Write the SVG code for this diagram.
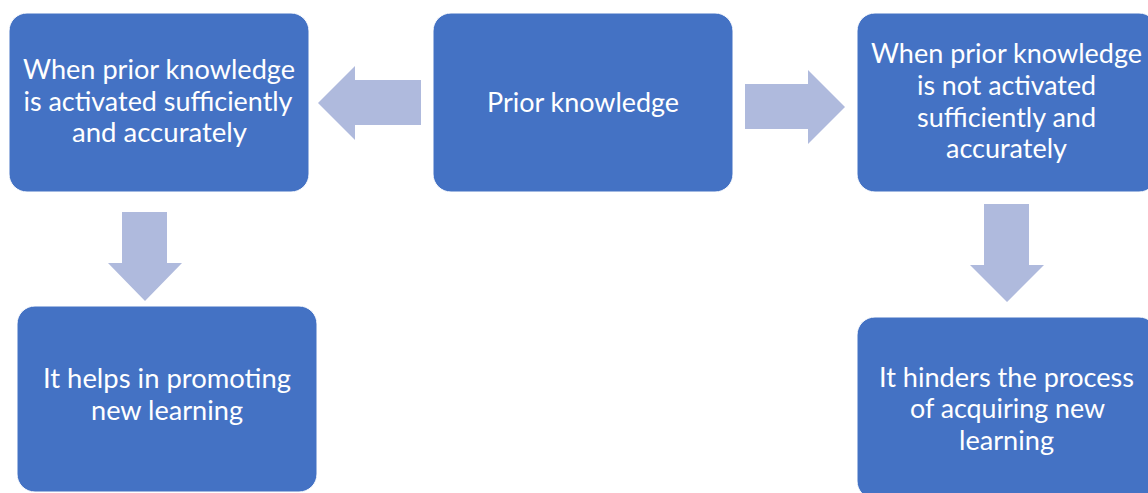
<svg xmlns="http://www.w3.org/2000/svg" width="1148" height="493" viewBox="0 0 1148 493">
  <style>
    .box { fill: #4472C4; stroke: #FFFFFF; stroke-width: 1; }
    .arrow { fill: #AFBADD; stroke: none; }
    .label { font-family: "Lato", "Open Sans", "Liberation Sans", sans-serif; font-size: 26px; fill: #FFFFFF; text-anchor: middle; }
  </style>
  <rect width="1148" height="493" fill="#FFFFFF"/>

  <!-- block arrows between the boxes -->
  <g id="connectors">
    <polygon class="arrow" points="318,103 355,66 355,80 421,80 421,125 355,125 355,140"/>
    <polygon class="arrow" points="745,84 808,84 808,70 845,107 808,144 808,129 745,129"/>
    <polygon class="arrow" points="122,212 167,212 167,263 182,263 145,301 108,263 122,263"/>
    <polygon class="arrow" points="984,204 1029,204 1029,265 1044,265 1007,302 970,265 984,265"/>
  </g>

  <g id="node-prior">
    <rect class="box" x="433" y="13" width="300" height="179" rx="18" ry="18"/>
    <text class="label" x="583" y="111.5" textLength="192" lengthAdjust="spacingAndGlyphs">Prior knowledge</text>
  </g>

  <g id="node-activated">
    <rect class="box" x="9" y="13" width="300" height="179" rx="18" ry="18"/>
    <text class="label" x="159" y="79" textLength="272" lengthAdjust="spacingAndGlyphs">When prior knowledge</text>
    <text class="label" x="158" y="111" textLength="269" lengthAdjust="spacingAndGlyphs">is activated sufficiently</text>
    <text class="label" x="159.5" y="142" textLength="175" lengthAdjust="spacingAndGlyphs">and accurately</text>
  </g>

  <g id="node-not-activated">
    <rect class="box" x="857" y="13" width="300" height="179" rx="18" ry="18"/>
    <text class="label" x="1006.5" y="63" textLength="271" lengthAdjust="spacingAndGlyphs">When prior knowledge</text>
    <text class="label" x="1006.5" y="95" textLength="179" lengthAdjust="spacingAndGlyphs">is not activated</text>
    <text class="label" x="1006.5" y="127" textLength="179" lengthAdjust="spacingAndGlyphs">sufficiently and</text>
    <text class="label" x="1006.5" y="158" textLength="121" lengthAdjust="spacingAndGlyphs">accurately</text>
  </g>

  <g id="node-helps">
    <rect class="box" x="17" y="306" width="300" height="186" rx="18" ry="18"/>
    <text class="label" x="167" y="388" textLength="248" lengthAdjust="spacingAndGlyphs">It helps in promoting</text>
    <text class="label" x="167" y="420" textLength="152" lengthAdjust="spacingAndGlyphs">new learning</text>
  </g>

  <g id="node-hinders">
    <rect class="box" x="857" y="317" width="300" height="182" rx="18" ry="18"/>
    <text class="label" x="1006.5" y="387" textLength="255" lengthAdjust="spacingAndGlyphs">It hinders the process</text>
    <text class="label" x="1007.5" y="418" textLength="195" lengthAdjust="spacingAndGlyphs">of acquiring new</text>
    <text class="label" x="1006.5" y="450" textLength="95" lengthAdjust="spacingAndGlyphs">learning</text>
  </g>
</svg>
